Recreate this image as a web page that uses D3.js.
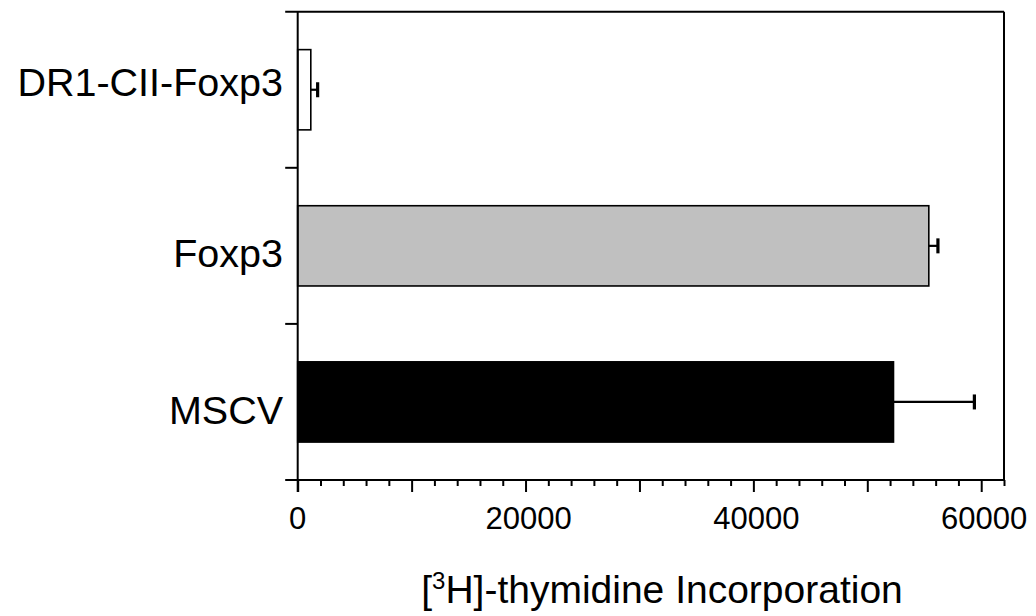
<!DOCTYPE html>
<html>
<head>
<meta charset="utf-8">
<script src="https://cdn.jsdelivr.net/npm/d3@7"></script>
<style>
  html, body { margin: 0; padding: 0; background: #fff; }
  svg { display: block; font-family: "Liberation Sans", Arial, Helvetica, sans-serif; }
</style>
</head>
<body>
<svg id="chart" width="1036" height="616"></svg>
<script>
// ---- data ----
const categories = ["DR1-CII-Foxp3", "Foxp3", "MSCV"];
const means = [1150, 55400, 52300];
const errors = [600, 800, 7100];
const barColors = ["#ffffff", "#c0c0c0", "#000000"];
const xTickLabels = [0, 20000, 40000, 60000];
const xMax = 62000;
const axisTitle = "-thymidine Incorporation";

(function () {
// ---- layout ----
const mLeft = 297.7, mRight = 1004, mTop = 11.7, mBottom = 480;
const labelShift = [-8, 7, 8];
const svg = d3.select("#chart");

const x = d3.scaleLinear().domain([0, xMax]).range([mLeft, mRight]);
const y = d3.scaleBand().domain(categories).range([mTop, mBottom])
  .paddingInner(0.486).paddingOuter(0.243);

const data = categories.map((c, i) => ({ cat: c, mean: means[i], err: errors[i], color: barColors[i], shift: labelShift[i] }));

// bars
svg.append("g").selectAll("rect").data(data).join("rect")
  .attr("x", x(0))
  .attr("y", d => y(d.cat))
  .attr("width", d => x(d.mean) - x(0))
  .attr("height", y.bandwidth())
  .attr("fill", d => d.color)
  .attr("stroke", "#000")
  .attr("stroke-width", 1.6);

// error bars
const eb = svg.append("g").selectAll("g").data(data).join("g");
eb.append("line")
  .attr("x1", d => x(d.mean)).attr("x2", d => x(d.mean + d.err))
  .attr("y1", d => y(d.cat) + y.bandwidth() / 2)
  .attr("y2", d => y(d.cat) + y.bandwidth() / 2)
  .attr("stroke", "#000").attr("stroke-width", 2.2);
eb.append("line")
  .attr("x1", d => x(d.mean + d.err)).attr("x2", d => x(d.mean + d.err))
  .attr("y1", d => y(d.cat) + y.bandwidth() / 2 - 7.5)
  .attr("y2", d => y(d.cat) + y.bandwidth() / 2 + 7.5)
  .attr("stroke", "#000").attr("stroke-width", 3.2);

// frame
const frame = svg.append("g").attr("stroke", "#000").attr("stroke-width", 2).attr("fill", "none");
frame.append("line").attr("x1", mLeft).attr("x2", mLeft).attr("y1", mTop).attr("y2", mBottom + 12);
frame.append("line").attr("x1", mRight).attr("x2", mRight).attr("y1", mTop).attr("y2", mBottom);

// y ticks at band boundaries
const step = y.step();
const boundaries = categories.map(c => y(c) - y.paddingInner() * step / 2).concat([mBottom]);
boundaries.forEach((b, i) => {
  const x2 = (i === 0 || i === boundaries.length - 1) ? mRight : mLeft;
  frame.append("line").attr("x1", mLeft - 12.5).attr("x2", x2).attr("y1", b).attr("y2", b);
});

// x ticks
const minor = d3.range(0, xMax + 1, 2000).filter(v => v % 10000 !== 0);
const major = d3.range(0, xMax + 1, 10000);
svg.append("g").attr("transform", `translate(0,${mBottom})`)
  .call(d3.axisBottom(x).tickValues(minor).tickSize(6).tickFormat(""))
  .call(g => g.select(".domain").remove())
  .call(g => g.selectAll("line").attr("stroke-width", 2));
svg.append("g").attr("transform", `translate(0,${mBottom})`)
  .call(d3.axisBottom(x).tickValues(major).tickSize(12).tickFormat(""))
  .call(g => g.select(".domain").remove())
  .call(g => g.selectAll("line").attr("stroke-width", 2));

// x tick labels
svg.append("g").selectAll("text").data(xTickLabels).join("text")
  .attr("x", d => x(d) + (d === 0 ? 0 : 3)).attr("y", 529)
  .attr("text-anchor", "middle")
  .attr("font-size", 31)
  .attr("fill", "#000")
  .text(d => d);

// y labels
svg.append("g").selectAll("text").data(data).join("text")
  .attr("x", 283)
  .attr("y", d => y(d.cat) + y.bandwidth() / 2 + d.shift)
  .attr("dy", "0.36em")
  .attr("text-anchor", "end")
  .attr("font-size", 39.5)
  .attr("fill", "#000")
  .text(d => d.cat);

// axis title
const t = svg.append("text")
  .attr("x", 662).attr("y", 603)
  .attr("text-anchor", "middle")
  .attr("font-size", 39)
  .attr("fill", "#000");
t.append("tspan").text("[");
t.append("tspan").attr("font-size", 24).attr("dy", -14).text("3");
t.append("tspan").attr("dy", 14).text("H]" + axisTitle);
})();
</script>
</body>
</html>
